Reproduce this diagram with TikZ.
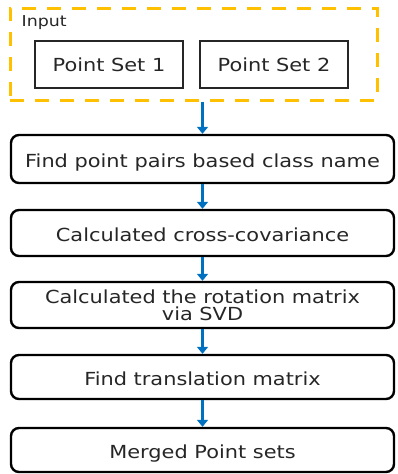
\documentclass[tikz,border=0pt]{standalone}
\usepackage{fontspec}
\setmainfont[FakeStretch=1.16]{DejaVu Sans}
\usetikzlibrary{arrows.meta}
\definecolor{dashorange}{RGB}{255,192,0}
\definecolor{arrowblue}{RGB}{0,112,192}
\tikzset{
  stepbox/.style={draw=black, line width=2.4pt, rounded corners=8pt, minimum width=383pt, inner sep=0pt, align=center, font=\fontsize{18}{17}\selectfont, text=black!85},
  oneline/.style={text height=17pt, text depth=0pt},
  setbox/.style={draw=black!85, line width=1.5pt, minimum width=148pt, minimum height=47pt, inner sep=0pt, font=\fontsize{18}{18}\selectfont, text=black!85},
  flow/.style={draw=arrowblue, line width=3pt, -{Triangle[length=7pt,width=11pt]}},
}
\begin{document}
\begin{tikzpicture}[x=1pt,y=1pt]
\useasboundingbox (0,0) rectangle (398,-474);
\node[draw=dashorange, line width=3pt, dash pattern=on 14pt off 11pt, minimum width=367pt, minimum height=92pt, inner sep=0pt] (input) at (193.5,-54) {};
\node[anchor=west, inner sep=0pt, font=\fontsize{15}{15}\selectfont, text=black!85] (inlabel) at (21.5,-22.5) {Input};
\node[setbox] (ps1) at (109,-64.5) {Point Set 1};
\node[setbox] (ps2) at (274,-64.5) {Point Set 2};
\node[stepbox, oneline, minimum height=48pt] (s1) at (202.5,-159) {Find point pairs based class name};
\node[stepbox, oneline, minimum height=46pt] (s2) at (202.5,-233) {Calculated cross-covariance};
\node[stepbox, minimum height=46pt] (s3) at (202.5,-305) {Calculated the rotation matrix\\via SVD};
\node[stepbox, oneline, minimum height=44pt] (s4) at (202.5,-377) {Find translation matrix};
\node[stepbox, oneline, minimum height=44pt] (s5) at (202.5,-450) {Merged Point sets};
\draw[flow] (s1.north |- input.south) -- (s1.north);
\draw[flow] (s1) -- (s2);
\draw[flow] (s2) -- (s3);
\draw[flow] (s3) -- (s4);
\draw[flow] (s4) -- (s5);
\end{tikzpicture}
\end{document}
